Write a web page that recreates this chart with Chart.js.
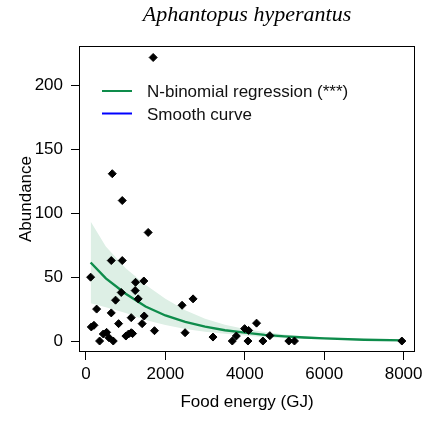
<!DOCTYPE html>
<html>
<head>
<meta charset="utf-8">
<script src="https://cdn.jsdelivr.net/npm/chart.js@4"></script>
<style>
  html, body { margin: 0; padding: 0; background: #fff; }
  #wrap { width: 438px; height: 421px; }
</style>
</head>
<body>
<div id="wrap"><canvas id="c" width="438" height="421"></canvas></div>
<script>
// ---- data ----
const titleText = 'Aphantopus hyperantus';
const xTitle = 'Food energy (GJ)';
const yTitle = 'Abundance';
const seriesLabels = ['N-binomial regression (***)', 'Smooth curve'];

const pointX = [1692, 662, 913, 1566, 637, 913, 117, 1457, 1248, 1240, 888, 745, 1315, 2420, 2697,
  268, 637, 1466, 1139, 821, 1415, 201, 134, 4296, 3995, 4095, 1725, 2496, 1005, 1072, 1139, 1173,
  436, 519, 578, 687, 343, 3199, 3685, 3786, 4079, 4456, 4631, 5109, 5251, 7956];
const pointY = [222, 131, 110, 85, 63, 63, 50, 47, 46, 39.5, 38, 32, 33, 28, 33,
  25, 22, 19.6, 18.3, 13.6, 13.6, 12.3, 11, 14, 9.7, 8.3, 8.1, 6.5, 3.9, 5.5, 6.5, 5.8,
  5.5, 6.8, 2.6, 0, 0, 3.1, 0, 3.9, 0, 0, 4.2, 0, 0, 0];

const curveX = [117, 500, 1000, 1500, 2000, 2500, 3000, 3500, 4000, 4500, 5000, 5500, 6000, 7000, 8000];
const curveY = [61.5, 49, 37, 27, 20, 15, 11.3, 8.4, 6.6, 4.8, 3.6, 2.7, 2.1, 1.0, 0.5];
const bandUpper = [93.5, 74, 57, 44, 33, 24, 17.5, 12.8, 9.5, 7, 5.2, 3.8, 2.9, 1.6, 0.9];
const bandLower = [29.5, 26.5, 22, 16.5, 12.5, 9.5, 7.3, 5.6, 4.3, 3.0, 2.2, 1.6, 1.3, 0.5, 0.2];

const xTicks = [0, 2000, 4000, 6000, 8000];
const yTicks = [0, 50, 100, 150, 200];
const xRange = [-176, 8287];
const yRange = [-8.6, 231];

// ---- styles ----
const GREEN = '#0e8c4b';
const BLUE = '#0000ff';
const BAND = '#ddefe5';
const SANS = '"Liberation Sans", Arial, sans-serif';

const toXY = (xs, ys) => xs.map((x, i) => ({ x: x, y: ys[i] }));

const boxPlugin = {
  id: 'box',
  afterDraw(chart) {
    const { ctx, chartArea: a } = chart;
    ctx.save();
    ctx.strokeStyle = '#000';
    ctx.lineWidth = 1;
    const l = Math.round(a.left) + 0.5, t = Math.round(a.top) + 0.5;
    const r = Math.round(a.right) - 0.5, b = Math.round(a.bottom) - 0.5;
    ctx.strokeRect(l, t, r - l, b - t);
    ctx.restore();
  }
};

const legendPlugin = {
  id: 'innerLegend',
  afterDraw(chart) {
    const { ctx } = chart;
    const colors = [GREEN, BLUE];
    ctx.save();
    ctx.font = '17px ' + SANS;
    ctx.textBaseline = 'alphabetic';
    ctx.textAlign = 'left';
    seriesLabels.forEach((lab, i) => {
      const yLine = 91 + i * 22.5;
      ctx.strokeStyle = colors[i];
      ctx.lineWidth = 2;
      ctx.beginPath();
      ctx.moveTo(102, yLine);
      ctx.lineTo(132, yLine);
      ctx.stroke();
      ctx.fillStyle = '#111';
      ctx.fillText(lab, 147, yLine + 6.3);
    });
    ctx.restore();
  }
};

const setTicks = (vals) => (scale) => { scale.ticks = vals.map(v => ({ value: v })); };

new Chart(document.getElementById('c'), {
  type: 'scatter',
  data: {
    datasets: [
      {
        label: 'points',
        data: toXY(pointX, pointY),
        pointStyle: 'rectRot',
        pointRadius: 4,
        pointBorderWidth: 1,
        backgroundColor: '#000',
        borderColor: '#000',
        order: 0
      },
      {
        label: seriesLabels[0],
        type: 'line',
        data: toXY(curveX, curveY),
        borderColor: GREEN,
        borderWidth: 2.4,
        pointRadius: 0,
        fill: false,
        tension: 0,
        order: 1
      },
      {
        label: seriesLabels[1],
        type: 'line',
        data: [],
        borderColor: BLUE,
        borderWidth: 2,
        pointRadius: 0,
        fill: false,
        order: 2
      },
      {
        label: 'upper',
        type: 'line',
        data: toXY(curveX, bandUpper),
        borderWidth: 0,
        borderColor: 'rgba(0,0,0,0)',
        backgroundColor: BAND,
        pointRadius: 0,
        fill: '+1',
        tension: 0,
        order: 3
      },
      {
        label: 'lower',
        type: 'line',
        data: toXY(curveX, bandLower),
        borderWidth: 0,
        borderColor: 'rgba(0,0,0,0)',
        pointRadius: 0,
        fill: false,
        tension: 0,
        order: 4
      }
    ]
  },
  options: {
    responsive: false,
    animation: false,
    devicePixelRatio: 1,
    layout: { padding: { left: 0, right: 23, top: 0, bottom: 0 } },
    plugins: {
      legend: { display: false },
      tooltip: { enabled: false },
      title: {
        display: true,
        text: titleText,
        fullSize: false,
        color: '#000',
        font: { family: '"Liberation Serif", "Times New Roman", serif', size: 22, style: 'italic', weight: 'normal', lineHeight: 1.2 },
        padding: { top: 2, bottom: 17.6 }
      }
    },
    scales: {
      x: {
        type: 'linear',
        min: xRange[0],
        max: xRange[1],
        afterBuildTicks: setTicks(xTicks),
        afterFit: (s) => { s.height = 69; },
        border: { display: false },
        grid: { display: true, drawOnChartArea: false, drawTicks: true, tickLength: 8, color: '#000', lineWidth: 1 },
        ticks: { color: '#000', font: { family: SANS, size: 17 }, padding: 4, maxRotation: 0, autoSkip: false, callback: (v) => String(v) },
        title: { display: true, text: xTitle, color: '#000', font: { family: SANS, size: 17 }, padding: { top: 0, bottom: 8.5 } }
      },
      y: {
        type: 'linear',
        min: yRange[0],
        max: yRange[1],
        afterBuildTicks: setTicks(yTicks),
        afterFit: (s) => { s.width = 79; },
        border: { display: false },
        grid: { display: true, drawOnChartArea: false, drawTicks: true, tickLength: 8, color: '#000', lineWidth: 1 },
        ticks: { color: '#000', font: { family: SANS, size: 17 }, padding: 8, autoSkip: false, callback: (v) => String(v) },
        title: { display: true, text: yTitle, color: '#000', font: { family: SANS, size: 17 }, padding: { top: 16, bottom: 0 } }
      }
    }
  },
  plugins: [boxPlugin, legendPlugin]
});
</script>
</body>
</html>
